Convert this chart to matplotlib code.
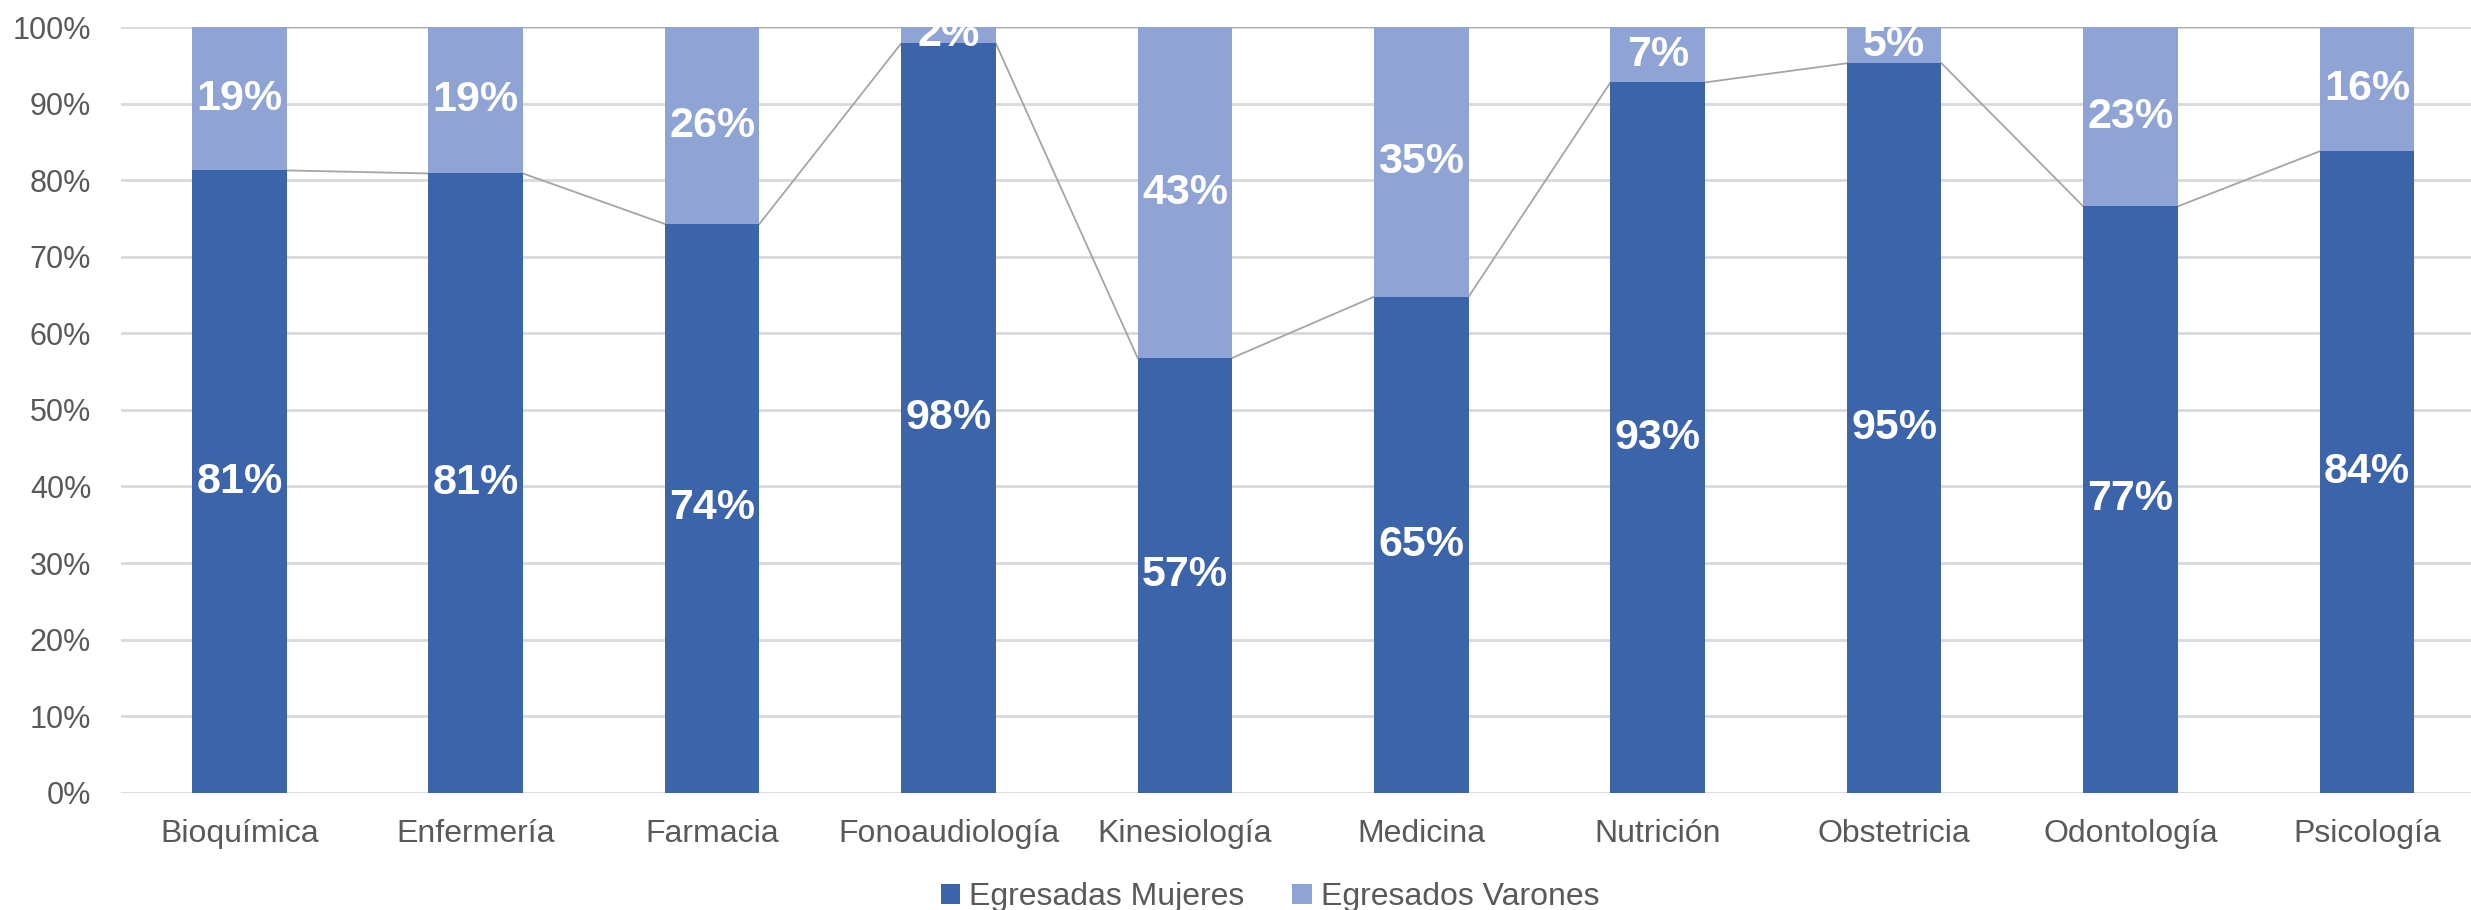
import matplotlib
matplotlib.use("Agg")
import matplotlib.pyplot as plt
import matplotlib.ticker as mticker
import numpy as np

plt.rcParams["font.family"] = ["Liberation Sans", "DejaVu Sans"]

CARRERAS = ["Bioquímica", "Enfermería", "Farmacia", "Fonoaudiología", "Kinesiología",
            "Medicina", "Nutrición", "Obstetricia", "Odontología", "Psicología"]
MUJERES = [81.3, 80.9, 74.3, 97.9, 56.8, 64.8, 92.8, 95.3, 76.6, 83.8]
VARONES = [18.7, 19.1, 25.7, 2.1, 43.2, 35.2, 7.2, 4.7, 23.4, 16.2]

MUJ_COLOR = "#3C64AB"
VAR_COLOR = "#8FA3D4"
LINE_GREY = "#A5A5A5"
GRID_GREY = "#D9D9D9"
TEXT_GREY = "#595959"

WIDTH = 0.40

fig = plt.figure(figsize=(24.71, 9.10), dpi=100)
ax = fig.add_axes([0.049, 0.129, 0.951, 0.841])

x = np.arange(len(CARRERAS))
muj = np.array(MUJERES)
var = np.array(VARONES)

ax.bar(x, muj, width=WIDTH, color=MUJ_COLOR, label="Egresadas Mujeres", zorder=3)
ax.bar(x, var, width=WIDTH, bottom=muj, color=VAR_COLOR, label="Egresados Varones", zorder=3)

# series lines between bar tops (Excel style)
for i in range(len(x) - 1):
    ax.plot([x[i] + WIDTH / 2, x[i + 1] - WIDTH / 2], [muj[i], muj[i + 1]],
            color=LINE_GREY, lw=1.3, zorder=2)
    ax.plot([x[i] + WIDTH / 2, x[i + 1] - WIDTH / 2],
            [muj[i] + var[i], muj[i + 1] + var[i + 1]],
            color=LINE_GREY, lw=1.3, zorder=2)

for i in range(len(x)):
    ax.text(x[i], muj[i] / 2, f"{round(muj[i]):.0f}%", ha="center", va="center",
            color="white", fontsize=31, fontweight="bold", zorder=4)
    ax.text(x[i], muj[i] + var[i] / 2, f"{round(var[i]):.0f}%", ha="center", va="center",
            color="white", fontsize=31, fontweight="bold", zorder=4)

ax.set_xlim(-0.5, 9.44)
ax.set_ylim(0, 100)
ax.yaxis.set_major_locator(mticker.MultipleLocator(10))
ax.yaxis.set_major_formatter(mticker.FuncFormatter(lambda v, _: f"{v:.0f}%"))
ax.set_xticks(x)
ax.set_xticklabels(CARRERAS)
ax.tick_params(axis="both", length=0, labelcolor=TEXT_GREY)
ax.tick_params(axis="y", pad=21.5, labelsize=22)
ax.tick_params(axis="x", pad=19, labelsize=23)
ax.grid(True, axis="y", color=GRID_GREY, lw=2, zorder=0)
for s in ax.spines.values():
    s.set_visible(False)

ax.legend(loc="center", bbox_to_anchor=(0.514 / 0.951 - 0.049 / 0.951, -0.137),
          ncol=2, frameon=False, fontsize=23, labelcolor=TEXT_GREY,
          handlelength=0.6, handleheight=0.6, handletextpad=0.3, columnspacing=1.5)

fig.savefig("out.png")
